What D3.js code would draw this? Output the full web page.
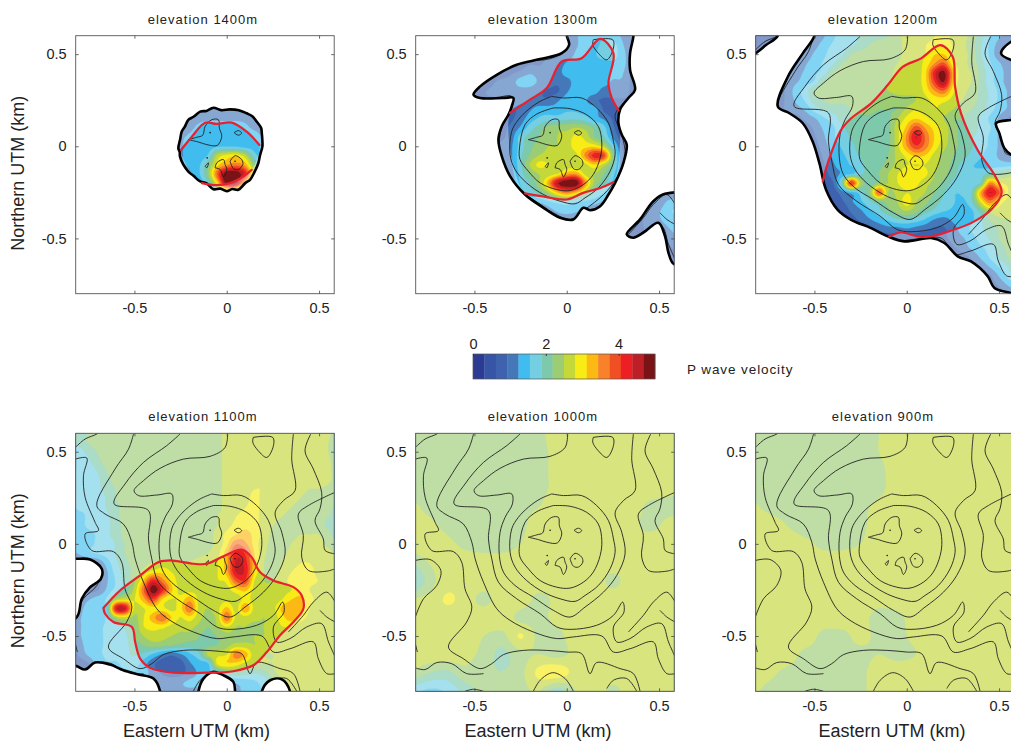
<!DOCTYPE html>
<html>
<head>
<meta charset="utf-8">
<script src="https://cdn.jsdelivr.net/npm/d3@7"></script>
<style>
html, body { margin: 0; padding: 0; background: #fff; overflow: hidden; }
svg { display: block; }
text { font-family: "Liberation Sans", Arial, sans-serif; fill: #222; }
</style>
</head>
<body>
<script>
// colour bar bands, P wave velocity 0 to 5 km/s
var bandColors = ["#2b3b93","#3655a5","#3e62ad","#4478b9","#40bdee","#74cfe3","#7dc9ab","#9ccd75","#c4d83a","#f7ec15","#fdb913","#f8812a","#f04e23","#ed1f24","#bc2026","#7a1315"];
var barTicks = [0, 2, 4];
var axisTicks = [-0.5, 0, 0.5];
var titles = ["elevation 1400m","elevation 1300m","elevation 1200m","elevation 1100m","elevation 1000m","elevation 900m"];

// velocity grids are in tenths of km/s, rows from north to south
var vel1400 = [
[11,11,11,11,11,11,11,11,11,11,11,11],
[11,11,11,11,11,11,11,11,11,11,11,11],
[11,11,12,12,12,12,12,12,12,12,11,11],
[11,11,12,13,14,14,14,14,13,12,11,11],
[11,12,13,14,14,14,14,14,14,14,12,11],
[11,12,14,14,14,15,15,15,14,14,12,11],
[11,12,14,14,16,26,29,30,26,17,14,11],
[11,12,13,15,21,30,34,36,33,22,15,11],
[11,11,12,15,23,38,50,50,42,25,14,11],
[11,11,11,13,18,30,48,47,30,18,12,11],
[11,11,11,11,12,14,20,18,13,11,11,11],
[11,11,11,11,11,11,11,11,11,11,11,11]];

var vel1300 = [
[9,9,9,9,9,9,9,9,9,9,9,10,12,14,14,15,14,12,10,9,9,9,9,9],
[9,9,9,9,9,9,9,9,9,9,9,10,12,14,14,17,17,13,10,9,9,9,9,9],
[9,9,9,9,9,9,9,9,9,9,9,10,13,14,15,18,17,14,10,9,9,9,9,9],
[9,9,9,9,9,9,8,9,9,10,10,13,14,14,14,14,15,14,10,9,9,9,9,9],
[9,9,9,9,8,9,10,12,11,10,11,14,14,14,14,14,14,13,9,9,9,9,9,9],
[9,9,7,9,10,11,14,14,12,11,10,11,14,14,14,14,12,12,9,9,9,9,9,9],
[9,7,9,10,11,11,11,11,10,9,9,12,14,14,14,11,11,11,9,9,9,9,9,9],
[9,9,9,9,9,10,11,10,10,10,12,14,14,13,10,9,9,9,9,9,9,9,9,9],
[9,9,9,9,9,9,10,12,14,14,14,15,15,14,14,9,8,8,8,9,9,9,9,9],
[9,9,9,9,9,9,11,14,16,17,17,18,18,17,14,12,9,8,8,9,9,9,9,9],
[9,9,9,9,9,10,13,17,20,23,24,24,25,24,21,17,10,8,8,9,9,9,9,9],
[9,9,9,9,9,11,17,20,22,24,25,26,29,27,22,19,12,8,8,9,9,9,9,9],
[9,9,9,9,10,12,17,21,23,25,25,26,30,30,30,26,17,9,8,9,9,9,9,9],
[9,9,9,9,10,12,18,22,25,26,26,26,27,35,42,40,22,10,8,9,9,9,9,9],
[9,9,9,9,10,12,18,25,29,28,26,26,26,27,31,26,20,10,8,9,9,9,9,9],
[9,9,9,9,9,11,17,22,25,26,28,33,34,27,25,22,17,9,8,9,9,9,9,9],
[9,9,9,9,9,10,16,19,24,33,46,50,50,35,24,20,15,9,8,9,9,9,9,9],
[9,9,9,9,9,9,14,17,20,25,32,36,32,25,19,16,13,9,8,9,9,9,9,9],
[9,9,9,9,9,9,9,11,13,15,17,18,16,15,14,12,9,9,9,9,9,10,13,14],
[9,9,9,9,9,9,9,9,9,11,13,14,13,12,10,9,9,9,9,9,10,12,15,16],
[9,9,9,9,9,9,9,9,9,9,10,10,10,9,9,9,9,9,9,9,11,12,14,15],
[9,9,9,9,9,9,9,9,9,9,9,9,9,9,9,9,9,9,9,9,10,10,12,14],
[9,9,9,9,9,9,9,9,9,9,9,9,9,9,9,9,9,8,8,9,9,9,10,12],
[9,9,9,9,9,9,9,9,9,9,9,9,9,9,9,9,9,9,9,9,9,9,9,10],
[9,9,9,9,9,9,9,9,9,9,9,9,9,9,9,9,9,9,9,9,9,9,9,9],
[9,9,9,9,9,9,9,9,9,9,9,9,9,9,9,9,9,9,9,9,9,9,9,9]];

var vel1200 = [
[8,8,8,8,8,8,8,9,12,15,17,18,19,20,21,22,24,26,27,27,28,30,27,26,24,20,16,13,11,9],
[8,8,8,8,8,8,9,11,14,16,17,18,20,22,23,23,24,26,27,28,29,29,28,26,23,19,15,11,9,8],
[8,8,8,8,8,8,10,13,15,17,18,22,23,23,23,24,24,26,27,28,31,31,28,26,24,19,15,10,8,8],
[8,8,8,8,8,9,12,14,16,18,22,23,23,23,24,24,25,27,27,29,34,38,29,26,24,20,16,13,10,9],
[8,8,8,8,9,11,13,15,17,22,23,23,24,24,24,24,26,27,27,30,42,48,33,26,25,21,17,14,11,9],
[8,8,8,8,10,12,14,16,22,23,23,24,24,24,24,25,26,27,27,30,40,47,32,26,25,21,17,14,11,9],
[8,8,8,8,10,14,17,22,23,23,23,24,24,24,24,25,26,27,26,29,34,37,29,26,24,21,18,15,12,9],
[8,8,8,8,10,13,16,20,22,23,23,24,24,24,23,23,23,23,25,27,29,29,27,25,23,21,18,15,12,10],
[8,8,8,8,10,11,13,17,19,20,20,22,23,23,22,22,22,26,28,27,28,27,25,23,22,20,17,14,12,10],
[8,8,8,8,8,8,10,12,15,17,20,22,21,21,20,21,25,29,31,29,27,25,22,22,20,18,15,12,9,8],
[8,8,8,8,8,8,8,10,13,15,18,20,20,20,20,21,27,32,39,34,30,27,23,21,20,18,16,12,9,8],
[8,8,8,8,8,8,7,9,12,15,17,19,20,20,20,21,27,35,44,37,31,27,23,21,19,18,15,12,9,8],
[8,8,8,8,8,8,7,8,11,14,16,18,20,20,20,21,27,34,40,36,30,26,23,21,19,17,15,12,9,8],
[8,8,8,8,8,8,7,7,10,13,15,17,19,20,20,22,26,29,32,31,27,24,22,20,18,16,14,12,10,9],
[8,8,8,8,8,8,7,7,9,12,14,16,18,20,21,23,26,28,28,28,26,24,21,18,16,15,14,14,14,15],
[8,8,8,8,8,8,7,7,8,11,13,15,18,20,22,25,28,30,30,29,25,23,20,17,16,17,20,21,23,25],
[8,8,8,8,8,8,7,7,8,9,20,41,25,20,23,25,28,30,29,26,24,21,18,16,16,19,35,29,27,27],
[8,8,8,8,8,8,7,7,8,8,11,14,17,23,38,25,26,28,27,25,22,19,16,16,18,33,44,38,28,26],
[8,8,8,8,8,8,7,7,7,8,9,12,15,18,21,23,25,30,25,23,20,18,16,15,18,28,36,30,27,26],
[8,8,8,8,8,8,7,7,7,8,7,10,12,15,18,21,23,25,23,20,18,16,15,14,15,20,26,27,26,25],
[8,8,8,8,8,8,7,7,7,7,7,8,10,12,14,16,18,18,17,15,12,11,13,14,15,18,22,24,25,25],
[8,8,8,8,8,8,7,7,7,7,7,7,7,8,10,11,11,12,11,10,9,9,11,14,16,18,20,22,24,25],
[8,8,8,8,8,8,7,7,7,7,7,7,7,7,7,8,8,8,8,8,8,9,10,12,14,17,19,22,24,25],
[8,8,8,8,8,8,7,7,7,7,7,7,7,7,7,7,7,7,7,7,7,8,9,11,13,15,17,20,23,25],
[8,8,8,8,8,8,7,7,7,7,7,7,7,7,7,7,7,7,7,7,7,7,7,8,10,13,16,19,22,25],
[8,8,8,8,8,8,7,7,7,7,7,7,7,7,7,7,7,7,7,7,7,7,7,7,8,10,13,16,19,23],
[8,8,8,8,8,8,7,7,7,7,7,7,7,7,7,7,7,7,7,7,7,7,7,7,7,8,9,13,17,20],
[8,8,8,8,8,8,7,7,7,7,7,7,7,7,7,7,7,7,7,7,7,7,7,7,7,7,8,10,13,15],
[8,8,8,8,8,8,7,7,7,7,7,7,7,7,7,7,7,7,7,7,7,7,7,7,7,7,7,8,10,11]];

var vel1100 = [
[20,21,22,23,23,23,23,23,23,23,23,23,23,23,23,23,24,26,27,27,27,27,27,27,27,27,27,27,26,22],
[18,20,22,23,23,23,23,23,23,23,23,23,23,23,23,23,24,26,27,27,27,27,27,27,27,27,27,27,25,21],
[16,17,20,22,23,23,23,23,23,23,23,23,23,23,23,23,24,26,27,27,27,27,27,27,27,27,27,27,25,20],
[15,16,18,21,23,23,23,23,23,23,23,23,23,23,23,23,24,26,27,27,27,27,27,27,27,27,27,27,26,21],
[15,16,17,19,22,23,23,23,23,23,23,23,23,23,23,23,24,26,27,27,27,27,28,27,27,27,27,27,26,22],
[15,16,17,18,21,23,23,23,23,23,23,23,23,23,23,23,24,26,27,27,27,28,28,27,27,27,27,27,26,23],
[15,16,17,18,20,22,23,23,23,23,23,23,23,23,23,23,24,26,27,27,28,28,27,27,27,26,25,25,24,22],
[15,16,16,17,19,22,23,23,23,23,23,23,23,23,23,23,24,26,27,27,29,27,26,26,26,25,24,24,24,22],
[15,16,16,17,19,21,23,23,23,23,23,23,23,23,23,23,24,26,27,28,29,27,26,26,25,24,24,24,23,21],
[15,15,16,17,18,21,23,23,23,23,23,23,23,23,23,23,25,26,28,29,29,27,26,25,24,23,23,23,22,20],
[15,15,16,17,18,20,23,23,23,23,23,23,23,23,23,24,25,27,29,30,29,27,25,24,24,24,24,23,21,18],
[14,15,15,16,18,20,23,23,23,23,23,23,23,23,23,24,26,29,31,33,30,27,24,23,24,25,25,25,23,20],
[14,15,15,16,17,19,22,23,23,23,23,23,23,23,23,24,26,30,37,35,30,26,24,23,25,26,26,26,24,22],
[11,13,15,16,17,19,22,23,23,23,23,23,24,24,24,25,27,33,42,40,31,26,23,24,26,27,28,27,26,24],
[9,9,9,10,14,18,21,23,24,25,26,26,25,25,26,27,28,33,44,42,32,25,23,25,27,28,28,27,26,25],
[7,7,7,7,12,17,20,23,26,29,30,28,27,26,27,26,28,33,44,43,31,25,24,26,28,29,29,27,26,26],
[7,7,7,8,12,16,20,24,32,42,36,30,27,27,27,26,28,29,38,40,28,25,25,27,29,31,29,28,27,26],
[8,8,8,9,13,17,20,26,37,49,42,32,27,27,27,26,27,27,30,32,27,26,26,27,28,30,28,27,26,26],
[10,10,12,14,16,25,27,28,33,40,31,28,29,33,27,26,26,27,26,29,27,26,26,28,31,32,29,27,26,26],
[9,11,14,15,17,43,44,27,28,30,29,27,30,37,27,25,27,32,27,34,27,26,27,32,34,33,28,27,26,26],
[10,12,14,15,16,25,27,24,28,33,37,31,28,30,26,24,26,37,27,27,26,25,26,30,33,30,27,27,27,27],
[10,12,14,15,16,17,20,22,28,29,29,27,26,26,24,22,25,28,25,25,24,25,26,28,28,26,26,27,27,27],
[10,12,14,15,16,17,18,22,25,27,26,25,24,24,22,21,22,24,24,24,25,25,26,26,26,26,26,27,27,27],
[9,11,14,15,16,17,18,20,22,23,23,22,21,20,21,21,22,24,26,26,25,26,26,26,26,26,26,27,27,27],
[7,10,13,15,16,17,18,19,18,15,12,10,12,15,18,26,27,28,36,33,26,25,25,26,26,26,27,27,27,27],
[5,7,9,13,15,15,17,17,14,10,8,8,8,12,14,15,29,31,30,27,25,25,25,26,26,26,27,27,27,27],
[4,5,5,7,10,13,14,15,14,11,9,8,8,11,13,15,16,20,21,20,19,20,24,26,26,26,27,27,27,27],
[8,8,8,8,8,8,9,10,11,11,11,11,12,13,13,12,12,12,13,14,15,17,20,24,26,26,27,27,27,27],
[8,8,8,8,8,8,8,9,10,10,10,11,12,12,12,12,12,12,12,13,14,16,18,22,25,26,27,27,27,27]];

var vel1000 = [
[23,23,23,23,23,23,23,24,27,27,27,27,27,27,27,27],
[23,23,23,23,23,23,23,24,26,27,27,27,27,27,27,27],
[23,23,23,23,23,23,23,24,26,27,27,27,27,27,27,27],
[23,23,23,23,23,23,23,24,26,27,27,27,27,27,26,26],
[26,24,23,23,23,23,24,25,27,27,27,27,27,24,24,24],
[27,26,24,23,23,23,24,27,27,27,27,27,26,24,26,27],
[27,27,26,24,23,23,25,27,27,27,27,27,27,27,27,27],
[22,25,27,27,27,27,27,27,27,27,27,27,27,27,27,27],
[17,23,27,27,27,27,27,27,27,27,27,24,27,27,27,27],
[25,26,28.4,27,24,27,27,24,26,27,27,27,27,27,27,27],
[27,27,27,27,27,27,24,24,26,27,27,27,27,27,27,27],
[27,27,27,27,25,24,28.4,24,24,27,27,27,27,27,27,27],
[27,27,27,26,24,21,24,25,24,26,27,27,27,27,27,27],
[25,22,21,24,23,22,24,29,30,27,27,27,27,27,27,27],
[17,15,16,20,23,23,24,25,20,25,27,24,27,27,27,27]];

var vel900 = [
[23,23,23,23,23,23,23,25,27,27,27,27,27,27,27,27],
[23,23,23,23,23,23,23,25,27,27,27,27,27,27,27,27],
[23,23,23,23,23,23,23,24,27,27,27,27,27,27,27,27],
[23,23,23,23,23,23,23,24,27,27,27,27,27,27,27,27],
[26,24,23,23,23,23,24,26,27,27,27,27,27,27,27,27],
[27,27,25,23,23,23,24,27,27,27,27,27,27,27,27,27],
[27,27,27,26,24,24,25,27,27,27,27,27,27,27,27,27],
[27,27,27,27,27,27,27,27,27,27,27,27,27,27,27,27],
[27,27,27,27,27,27,27,27,27,27,27,27,27,27,27,27],
[27,27,27,27,27,27,27,26,27,27,27,27,27,27,27,27],
[27,27,27,27,27,27,26,24,24,27,27,27,27,27,27,27],
[27,27,27,27,24,24,26,24,24,26,27,27,27,27,27,27],
[27,27,27,24,24,24,24,25,24,25,27,27,27,27,27,27],
[27,26,24,23,23,23,24,27,27,27,27,27,27,27,27,27],
[26,24,23,23,23,23,24,27,27,27,27,27,27,27,27,27]];

// edge of the data coverage in km (east, north)
var bigBox = [[-1.5,1.5],[1.5,1.5],[1.5,-1.5],[-1.5,-1.5]];
var edge1400 = [[[-.072,.209],[-.03,.196],[.018,.2],[.065,.196],[.108,.179],[.14,.162],[.162,.134],[.186,.1],[.19,.07],[.193,.03],[.193,-.002],[.18,-.05],[.171,-.092],[.15,-.14],[.126,-.182],[.1,-.2],[.063,-.236],[.03,-.232],[0,-.244],[-.035,-.23],[-.072,-.233],[-.11,-.2],[-.144,-.191],[-.18,-.16],[-.208,-.137],[-.235,-.1],[-.253,-.056],[-.255,-.03],[-.262,-.011],[-.252,.04],[-.244,.079],[-.225,.11],[-.208,.143],[-.18,.16],[-.144,.188],[-.11,.192]]];
var edge1300 = [
[[0,.65],[0,.6],[.013,.551],[-.027,.505],[-.144,.473],[-.271,.442],[-.379,.388],[-.469,.325],[-.505,.28],[-.469,.262],[-.343,.262],[-.289,.262],[-.298,.217],[-.316,.171],[-.352,.108],[-.37,.036],[-.352,-.054],[-.307,-.162],[-.226,-.262],[-.126,-.334],[-.036,-.388],[.036,-.397],[.09,-.334],[.126,-.347],[.181,-.325],[.226,-.262],[.262,-.199],[.307,-.09],[.325,.009],[.298,.063],[.28,.126],[.289,.199],[.334,.262],[.37,.307],[.343,.415],[.343,.505],[.361,.596],[.361,.65]],
[[.65,-.271],[.532,-.258],[.469,-.298],[.397,-.397],[.325,-.478],[.361,-.496],[.415,-.469],[.496,-.415],[.532,-.487],[.551,-.578],[.578,-.637],[.65,-.64]]];
var edge1200 = [
[[-.9,.65],[-.7,.65],[-.699,.599],[-.762,.549],[-.812,.509],[-.9,.45]],
[[-.5,.65],[-.5,.599],[-.563,.504],[-.644,.377],[-.698,.215],[-.635,.179],[-.563,.125],[-.509,.025],[-.473,-.092],[-.437,-.236],[-.374,-.345],[-.301,-.399],[-.193,-.444],[-.103,-.489],[-.013,-.516],[.132,-.498],[.204,-.525],[.276,-.597],[.348,-.625],[.439,-.706],[.475,-.769],[.583,-.805],[.7,-.9],[.7,-.05],[.57,-.047],[.529,-.011],[.502,.07],[.484,.125],[.57,.143],[.7,.15],[.7,.45],[.57,.467],[.511,.504],[.565,.567],[.7,.6],[.7,.65]]];
var edge1100 = [bigBox,
[[-.9,-.08],[-.818,-.081],[-.74,-.085],[-.677,-.135],[-.682,-.19],[-.74,-.235],[-.785,-.298],[-.812,-.397],[-.9,-.42]],
[[-.9,-.662],[-.818,-.662],[-.767,-.682],[-.713,-.644],[-.632,-.655],[-.56,-.686],[-.478,-.709],[-.397,-.731],[-.361,-.8],[-.361,-.9],[-.9,-.9]],
[[-.153,-.9],[-.153,-.8],[-.126,-.731],[-.076,-.695],[-.018,-.713],[.036,-.749],[.045,-.8],[.045,-.9]],
[[.19,-.9],[.19,-.8],[.235,-.74],[.298,-.735],[.343,-.8],[.343,-.9]]];

// red lines in km
var red1400 = [
[[-.247,-.02],[-.189,.052],[-.117,.128],[-.054,.121],[.027,.128],[.108,.079],[.177,.007]],
[[.135,-.128],[.09,-.164],[.018,-.2],[-.054,-.211],[-.135,-.2]]];
var red1300 = [
[[-.307,.181],[-.199,.253],[-.108,.316],[-.027,.46],[.081,.478],[.181,.583],[.253,.505],[.226,.343],[.244,.262],[.28,.195]],
[[.253,-.195],[.181,-.226],[.09,-.253],[0,-.289],[-.108,-.276],[-.226,-.256]]];
var red1200 = [
[[-.455,-.191],[-.428,-.092],[-.356,.088],[-.301,.152],[-.193,.233],[-.103,.332],[-.022,.431],[.078,.477],[.182,.549],[.249,.486],[.262,.323],[.294,.179],[.384,-.02],[.475,-.155],[.514,-.251],[.457,-.345],[.348,-.417],[.226,-.462],[.132,-.489],[.06,-.489],[-.031,-.468],[-.094,-.489]]];
var red1100 = [
[[-.668,-.348],[-.578,-.253],[-.469,-.171],[-.37,-.099],[-.307,-.09],[-.18,-.108],[-.108,-.108],[-.018,-.067],[.081,-.031],[.135,-.072],[.18,-.153],[.253,-.199],[.361,-.235],[.406,-.28],[.415,-.352],[.361,-.424],[.289,-.496],[.217,-.587],[.144,-.659],[.036,-.691],[-.108,-.699],[-.289,-.699],[-.415,-.673],[-.469,-.623],[-.496,-.532],[-.514,-.451],[-.614,-.424],[-.659,-.379],[-.668,-.348]]];
var redExtra1200 = [[-.36,-.43]];

// topography, summit islands in km
var islands = [
[[-.208,.036],[-.162,.049],[-.13,.06],[-.117,.108],[-.081,.144],[-.045,.144],[-.04,.099],[-.027,.054],[-.051,.005],[-.108,.009],[-.153,.023],[-.208,.036]],
[[.04,.074],[.063,.085],[.081,.072],[.063,.06],[.04,.074]],
[[.018,-.081],[.045,-.051],[.081,-.072],[.087,-.099],[.063,-.126],[.036,-.121],[.018,-.081]],
[[-.063,-.117],[-.054,-.09],[-.018,-.072],[-.009,-.099],[0,-.126],[-.018,-.166],[-.036,-.126],[-.063,-.117]],
[[-.117,-.108],[-.099,-.09],[-.108,-.117],[-.117,-.108]]];
var summitDots = [[-.09,.074],[.045,-.081],[-.106,-.063]];

// topography, the other contours in km
var topoLines = [
[[-.82,.523],[-.767,.569],[-.704,.596],[-.69,.61]],
[[-.82,.46],[-.758,.466],[-.776,.37],[-.767,.253],[-.713,.117],[-.695,.072],[-.767,.054],[-.731,-.036],[-.614,-.042],[-.569,-.099],[-.551,-.244],[-.514,-.343],[-.542,-.424],[-.641,-.56],[-.56,-.623],[-.469,-.677],[-.406,-.65],[-.343,-.601],[-.235,-.578],[-.108,-.578],[0,-.587],[.081,-.596],[.126,-.704],[.162,-.644],[.289,-.677],[.361,-.704],[.397,-.8]],
[[-.505,.596],[-.532,.514],[-.605,.406],[-.704,.208],[-.659,.162],[-.56,.108],[-.514,.009],[-.496,-.081],[-.451,-.208],[-.379,-.352],[-.307,-.415],[-.181,-.478],[-.054,-.514],[.036,-.505],[.19,-.5],[.253,-.587],[.343,-.569],[.469,-.532],[.496,-.623],[.542,-.704],[.587,-.704]],
[[-.253,.596],[-.325,.533],[-.451,.442],[-.551,.325],[-.61,.217],[-.424,.181],[-.424,.027],[-.406,-.081],[-.37,-.208],[-.271,-.298],[-.144,-.379],[-.054,-.451],[.018,-.464],[.162,-.442],[.253,-.388],[.303,-.316],[.31,-.37],[.253,-.451],[.271,-.532],[.343,-.514],[.433,-.451],[.514,-.433],[.551,-.532],[.587,-.614]],
[[.005,.596],[-.009,.523],[-.09,.475],[-.235,.46],[-.361,.41],[-.451,.343],[-.502,.289],[-.478,.262],[-.379,.265],[-.298,.271],[-.294,.217],[-.334,.144],[-.361,.063],[-.365,-.063],[-.343,-.153],[-.28,-.226],[-.181,-.289],[-.072,-.361],[.018,-.397],[.099,-.343],[.199,-.262],[.271,-.171],[.316,-.054],[.298,.063],[.262,.168],[.307,.235],[.37,.289],[.352,.46],[.361,.596]],
[[-.081,.271],[-.018,.262],[.081,.262],[.162,.208],[.226,.126],[.253,.027],[.262,-.045],[.235,-.135],[.171,-.226],[.099,-.28],[.045,-.312],[-.036,-.298],[-.126,-.262],[-.217,-.199],[-.28,-.126],[-.307,-.045],[-.298,.081],[-.262,.144],[-.208,.199],[-.144,.244],[-.081,.271]],
[[-.072,.208],[.018,.204],[.108,.171],[.171,.108],[.19,.018],[.181,-.063],[.144,-.153],[.09,-.208],[.018,-.24],[-.054,-.235],[-.144,-.199],[-.208,-.135],[-.253,-.072],[-.256,-.009],[-.226,.117],[-.162,.175],[-.072,.208]],
[[.144,.578],[.249,.578],[.253,.533],[.217,.469],[.171,.505],[.141,.551],[.144,.578]],
[[.455,.596],[.424,.505],[.469,.406],[.514,.28],[.505,.19],[.478,.126],[.523,.027],[.533,-.036],[.587,-.054]],
[[.587,.28],[.442,.208],[.388,.162],[.415,.045],[.406,-.072],[.442,-.144],[.542,-.148],[.587,-.135]],
[[-.82,-.09],[-.74,-.085],[-.682,-.144],[-.704,-.226],[-.776,-.298],[-.82,-.397]],
[[-.82,-.542],[-.809,-.587]],
[[-.82,-.673],[-.767,-.682],[-.704,-.644],[-.623,-.65],[-.542,-.704],[-.451,-.704]],
[[-.551,-.8],[-.505,-.789],[-.451,-.8]],
[[-.181,-.8],[-.144,-.74],[-.076,-.699],[-.009,-.731],[.036,-.8]],
[[.217,-.785],[.253,-.74],[.325,-.731],[.379,-.8]],
[[.334,-.478],[.415,-.388],[.469,-.316],[.542,-.262],[.587,-.316]],
[[.505,-.361],[.542,-.397],[.587,-.424]]];

// layout
var panelW = 258.5, panelH = 258;
var panels = [
  {title: 0, left: 75.7, top: 35.7, field: vel1400, x0: -.3, y0: .25, dx: .05, edge: edge1400, red: red1400, extra: [], full: false, ylabel: true, xlabel: 0},
  {title: 1, left: 415.7, top: 35.7, field: vel1300, x0: -.55, y0: .6, dx: .05, edge: edge1300, red: red1300, extra: [], full: true, ylabel: false, xlabel: 0},
  {title: 2, left: 755.7, top: 35.7, field: vel1200, x0: -.85, y0: .6, dx: .05, edge: edge1200, red: red1200, extra: redExtra1200, full: true, ylabel: false, xlabel: 0},
  {title: 3, left: 75.7, top: 433.3, field: vel1100, x0: -.85, y0: .6, dx: .05, edge: edge1100, red: red1100, extra: [], full: true, ylabel: true, xlabel: 196.5},
  {title: 4, left: 415.7, top: 433.3, field: vel1000, x0: -.85, y0: .6, dx: .1, edge: null, red: null, extra: [], full: true, ylabel: false, xlabel: 538},
  {title: 5, left: 755.7, top: 433.3, field: vel900, x0: -.85, y0: .6, dx: .1, edge: null, red: null, extra: [], full: true, ylabel: false, xlabel: 892}
];

var svg = d3.select("body").append("svg").attr("width", 1011).attr("height", 743);

// thresholds between the colour bands, same units as the grids
var bandEdges = bandColors.map(function(c, i) { return i * 50 / bandColors.length; });

function catmull(a, b, c, d, t) {
    return 0.5 * (2*b + (c-a)*t + (2*a-5*b+4*c-d)*t*t + (3*b-a-3*c+d)*t*t*t);
}
function refineRow(row, k) {
    var out = [];
    for (var i = 0; i < row.length - 1; i++) {
        for (var j = 0; j < k; j++) {
            out.push(catmull(row[Math.max(i-1,0)], row[i], row[i+1], row[Math.min(i+2,row.length-1)], j/k));
        }
    }
    out.push(row[row.length-1]);
    return out;
}
// just to get smooth band edges out of the read grid
function refine(rows, k) {
    var wide = rows.map(function(r) { return refineRow(r, k); });
    var cols = d3.range(wide[0].length).map(function(c) {
        return refineRow(wide.map(function(r) { return r[c]; }), k);
    });
    return d3.range(cols[0].length).map(function(r) {
        return cols.map(function(col) { return Math.max(0, col[r]); });
    });
}

panels.forEach(function(p, idx) {
    var x = d3.scaleLinear().domain([-.818, .582]).range([p.left, p.left + panelW]);
    var y = d3.scaleLinear().domain([-.8, .6]).range([p.top + panelH, p.top]);
    var g = svg.append("g");

    var defs = svg.append("defs");
    defs.append("clipPath").attr("id", "box" + idx).append("rect")
        .attr("x", p.left).attr("y", p.top).attr("width", panelW).attr("height", panelH);

    var ring = d3.line().x(function(d) { return x(d[0]); }).y(function(d) { return y(d[1]); })
        .curve(d3.curveCatmullRomClosed.alpha(.5));
    var open = d3.line().x(function(d) { return x(d[0]); }).y(function(d) { return y(d[1]); })
        .curve(d3.curveCatmullRom.alpha(.5));

    var boxed = g.append("g").attr("clip-path", "url(#box" + idx + ")");
    var masked = boxed.append("g");
    if (p.edge) {
        var maskD = p.edge.map(function(poly) { return ring(poly); }).join("");
        defs.append("clipPath").attr("id", "mask" + idx).append("path")
            .attr("d", maskD).attr("clip-rule", "evenodd");
        masked.attr("clip-path", "url(#mask" + idx + ")");
    }

    // filled velocity bands
    var k = Math.round(p.dx / .0125);
    var fine = refine(p.field, k);
    var n = fine[0].length, m = fine.length;
    var flat = d3.merge(fine);
    var contours = d3.contours().size([n, m]).thresholds(bandEdges)(flat);
    var step = p.dx / k;
    var project = d3.geoTransform({point: function(a, b) {
        this.stream.point(x(p.x0 + (a - .5) * step), y(p.y0 - (b - .5) * step));
    }});
    var path = d3.geoPath(project);
    masked.selectAll("path.band").data(contours).enter().append("path")
        .attr("class", "band")
        .attr("d", path)
        .attr("fill", function(d, i) { return bandColors[i]; })
        .attr("stroke", function(d, i) { return bandColors[i]; })
        .attr("stroke-width", .3);

    // paler outside the red line
    var veil = "M" + p.left + "," + p.top + "h" + panelW + "v" + panelH + "h" + (-panelW) + "Z";
    if (p.red) {
        var rim = d3.merge(p.red).concat(p.extra);
        veil += ring(rim);
    }
    masked.append("path").attr("d", veil).attr("fill", "#fff").attr("fill-opacity", .35).attr("fill-rule", "evenodd");

    // topography
    var lines = p.full ? islands.concat(topoLines) : islands;
    masked.selectAll("path.topo").data(lines).enter().append("path")
        .attr("class", "topo")
        .attr("d", open)
        .attr("fill", "none")
        .attr("stroke", "#222")
        .attr("stroke-width", .9);
    masked.selectAll("circle").data(summitDots).enter().append("circle")
        .attr("cx", function(d) { return x(d[0]); })
        .attr("cy", function(d) { return y(d[1]); })
        .attr("r", .8)
        .attr("fill", "#111");

    // black edge of the coverage
    if (p.edge) {
        boxed.selectAll("path.edge").data(p.edge).enter().append("path")
            .attr("class", "edge")
            .attr("d", ring)
            .attr("fill", "none")
            .attr("stroke", "#000")
            .attr("stroke-width", 2.6)
            .attr("stroke-linejoin", "round");
    }
    if (p.red) {
        boxed.selectAll("path.red").data(p.red).enter().append("path")
            .attr("class", "red")
            .attr("d", open)
            .attr("fill", "none")
            .attr("stroke", "#e8212e")
            .attr("stroke-width", 2.2)
            .attr("stroke-linecap", "round");
    }

    // frame and ticks, matlab style with ticks inside
    g.append("rect").attr("x", p.left).attr("y", p.top).attr("width", panelW).attr("height", panelH)
        .attr("fill", "none").attr("stroke", "#555").attr("stroke-width", .9);

    // plain hyphen on the negative labels, as in the figure
    var fmt = function(d) { return d === 0 ? "0" : d.toFixed(1); };
    g.append("g").attr("transform", "translate(0," + (p.top + panelH) + ")")
        .call(d3.axisBottom(x).tickValues(axisTicks).tickSizeInner(-3).tickSizeOuter(0).tickPadding(9).tickFormat(fmt));
    g.append("g").attr("transform", "translate(" + p.left + ",0)")
        .call(d3.axisLeft(y).tickValues(axisTicks).tickSizeInner(-3).tickSizeOuter(0).tickPadding(9).tickFormat(fmt));
    g.append("g").attr("transform", "translate(0," + p.top + ")")
        .call(d3.axisTop(x).tickValues(axisTicks).tickSizeInner(-3).tickSizeOuter(0).tickFormat(""));
    g.append("g").attr("transform", "translate(" + (p.left + panelW) + ",0)")
        .call(d3.axisRight(y).tickValues(axisTicks).tickSizeInner(-3).tickSizeOuter(0).tickFormat(""));
    g.selectAll(".domain").remove();
    g.selectAll(".tick line").attr("stroke", "#444").attr("stroke-width", .8);
    g.selectAll(".tick text").attr("font-size", 14.5).attr("fill", "#222").attr("font-family", "Liberation Sans");

    g.append("text").attr("x", p.left + panelW / 2 - 2).attr("y", p.top - 12)
        .attr("text-anchor", "middle").attr("font-size", 13).attr("letter-spacing", 1)
        .text(titles[p.title]);

    if (p.ylabel) {
        g.append("text").attr("transform", "translate(24," + (p.top + 137.5) + ") rotate(-90)")
            .attr("text-anchor", "middle").attr("font-size", 18)
            .text("Northern UTM (km)");
    }
    if (p.xlabel) {
        g.append("text").attr("x", p.xlabel).attr("y", 737)
            .attr("text-anchor", "middle").attr("font-size", 18)
            .text("Eastern UTM (km)");
    }
});

// colour bar
var barX = d3.scaleLinear().domain([0, 5]).range([473, 655]);
var barTop = 354, barH = 25;
var barBands = svg.append("g");
barBands.selectAll("rect").data(bandColors).enter().append("rect")
    .attr("x", function(d, i) { return barX(i * 5 / bandColors.length); })
    .attr("y", barTop)
    .attr("width", barX(5 / bandColors.length) - barX(0) + .3)
    .attr("height", barH)
    .attr("fill", function(d) { return d; });
svg.append("rect").attr("x", 473).attr("y", barTop).attr("width", 182).attr("height", barH)
    .attr("fill", "none").attr("stroke", "#555").attr("stroke-width", .7);
var barAxis = svg.append("g").attr("transform", "translate(0," + barTop + ")")
    .call(d3.axisTop(barX).tickValues(barTicks).tickSizeInner(-2).tickSizeOuter(0).tickPadding(5).tickFormat(d3.format("d")));
barAxis.select(".domain").remove();
barAxis.selectAll(".tick line").attr("stroke", "#333");
barAxis.selectAll(".tick text").attr("font-size", 14.5).attr("fill", "#222").attr("font-family", "Liberation Sans");

svg.append("text").attr("x", 687).attr("y", 374).attr("font-size", 13.5).attr("letter-spacing", .9)
    .text("P wave velocity");
</script>
</body>
</html>
